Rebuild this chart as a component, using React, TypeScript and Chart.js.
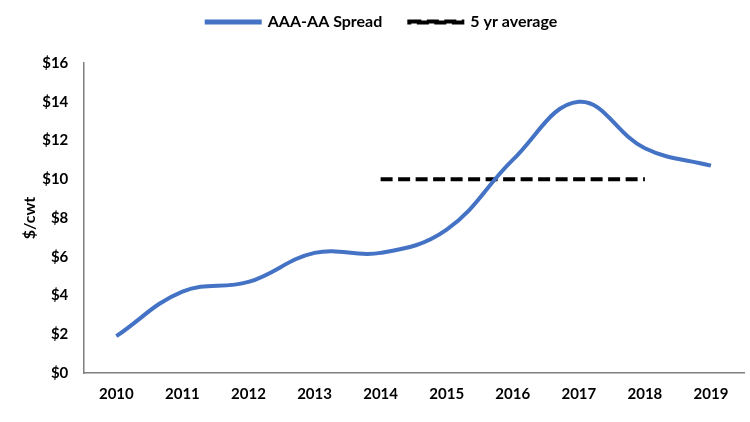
import React, { useEffect, useRef } from "react";
import { Chart, registerables } from "chart.js";

Chart.register(...registerables);

const years = ["2010", "2011", "2012", "2013", "2014", "2015", "2016", "2017", "2018", "2019"];
const spread = [1.9, 4.2, 4.7, 6.2, 6.2, 7.4, 11.0, 14.0, 11.6, 10.7];
const fiveYrAvg = [null, null, null, null, 10, 10, 10, 10, 10, null];

const FONT = "Lato, 'Open Sans', sans-serif";

const legendSpacer = {
  id: "legendSpacer",
  beforeInit(chart: any) {
    const orig = chart.legend.fit;
    chart.legend.fit = function () {
      orig.bind(chart.legend)();
      this.height = 76;
    };
  },
};

export default function App() {
  const ref = useRef<HTMLCanvasElement | null>(null);
  useEffect(() => {
    if (!ref.current) return;
    const chart = new Chart(ref.current, {
      type: "line",
      data: {
        labels: years,
        datasets: [
          {
            label: "AAA-AA Spread",
            data: spread,
            borderColor: "#4472C4",
            backgroundColor: "#4472C4",
            borderWidth: 4,
            tension: 0.4,
            pointRadius: 0,
            fill: false,
          },
          {
            label: "5 yr average",
            data: fiveYrAvg as any,
            borderColor: "#000000",
            backgroundColor: "#000000",
            borderWidth: 4,
            borderDash: [12, 5.5],
            pointRadius: 0,
            fill: false,
            spanGaps: false,
          },
        ],
      },
      plugins: [legendSpacer],
      options: {
        animation: false,
        responsive: true,
        maintainAspectRatio: false,
        layout: { padding: { left: 20, right: 6, top: -13, bottom: 7 } },
        plugins: {
          legend: {
            position: "top",
            labels: {
              font: { family: FONT, size: 16, weight: "bold" },
              color: "#000",
              boxWidth: 53,
              boxHeight: 1,
              padding: 27,
            },
          },
          tooltip: { enabled: false },
        },
        scales: {
          x: {
            offset: true,
            grid: { display: false, drawTicks: false },
            border: { color: "#7f7f7f", width: 1.5 },
            ticks: {
              font: { family: FONT, size: 15, weight: "bold" },
              color: "#000",
              padding: 12,
            },
          },
          y: {
            min: 0,
            max: 16,
            grid: { display: false, drawTicks: false },
            border: { color: "#7f7f7f", width: 1.5 },
            ticks: {
              stepSize: 2,
              font: { family: FONT, size: 15, weight: "bold" },
              color: "#000",
              padding: 15,
              callback: (v: any) => "$" + v,
            },
            title: {
              display: true,
              text: "$/cwt",
              font: { family: FONT, size: 16, weight: "bold" },
              color: "#000",
              padding: { top: 0, bottom: -12 },
            },
          },
        },
      },
    });
    return () => chart.destroy();
  }, []);
  return (
    <div style={{ position: "fixed", left: 0, top: 0, width: 750, height: 422, background: "#fff" }}>
      <canvas ref={ref} />
    </div>
  );
}
